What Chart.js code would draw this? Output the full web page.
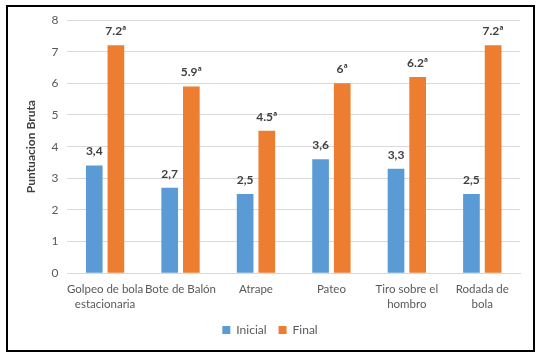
<!DOCTYPE html>
<html lang="en">
<head>
    <meta charset="UTF-8">
    <title>Puntuacion Bruta</title>
    <script src="https://cdn.jsdelivr.net/npm/chart.js"></script>
    <style>
        body { margin: 0; background: #fff; }
        #wrap { width: 542px; height: 359px; }
    </style>
</head>
<body>
    <div id="wrap"><canvas id="chart" width="542" height="359"></canvas></div>

    <script>
        const categories = [
            ['Golpeo de bola', 'estacionaria'],
            'Bote de Balón',
            'Atrape',
            'Pateo',
            ['Tiro sobre el', 'hombro'],
            ['Rodada de', 'bola']
        ];
        const inicial = [3.4, 2.7, 2.5, 3.6, 3.3, 2.5];
        const final = [7.2, 5.9, 4.5, 6, 6.2, 7.2];
        const inicialLabels = ['3,4', '2,7', '2,5', '3,6', '3,3', '2,5'];
        const finalLabels = ['7.2ª', '5.9ª', '4.5ª', '6ª', '6.2ª', '7.2ª'];

        // border around the whole figure + value labels over bars
        const frame = {
            id: 'frame',
            afterDraw(chart) {
                const c = chart.ctx;
                c.save();
                c.strokeStyle = '#000';
                c.lineWidth = 2;
                c.strokeRect(7, 6, 527, 345);
                c.restore();
            }
        };
        const valueLabels = {
            id: 'valueLabels',
            afterDatasetsDraw(chart) {
                const c = chart.ctx;
                const texts = [inicialLabels, finalLabels];
                c.save();
                c.font = 'bold 12px Lato';
                c.fillStyle = '#404040';
                c.textAlign = 'center';
                c.textBaseline = 'middle';
                chart.data.datasets.forEach((ds, i) => {
                    chart.getDatasetMeta(i).data.forEach((bar, j) => {
                        c.fillText(texts[i][j], bar.x, bar.y - 14);
                    });
                });
                c.restore();
            }
        };

        new Chart(document.getElementById('chart'), {
            type: 'bar',
            data: {
                labels: categories,
                datasets: [
                    { label: 'Inicial', data: inicial, backgroundColor: '#5B9BD5' },
                    { label: 'Final', data: final, backgroundColor: '#ED7D31' }
                ]
            },
            options: {
                responsive: false,
                animation: false,
                categoryPercentage: 0.574,
                barPercentage: 0.77,
                layout: { padding: { left: 20, right: 22, top: 20, bottom: 13 } },
                plugins: {
                    tooltip: { enabled: false },
                    legend: {
                        position: 'bottom',
                        labels: {
                            boxWidth: 8, boxHeight: 8, padding: 12,
                            color: '#595959', font: { family: 'Lato', size: 12 }
                        }
                    }
                },
                scales: {
                    x: {
                        grid: { display: false },
                        border: { color: '#D9D9D9' },
                        ticks: {
                            color: '#595959', maxRotation: 0, autoSkip: false,
                            font: { family: 'Lato', size: 11.5, lineHeight: 1.25 }, padding: 1
                        }
                    },
                    y: {
                        min: 0, max: 8,
                        ticks: { stepSize: 1, color: '#595959', font: { family: 'Lato', size: 12 }, padding: 9 },
                        grid: { color: '#D9D9D9', drawTicks: false },
                        border: { display: false },
                        title: {
                            display: true, text: 'Puntuacion Bruta', color: '#404040',
                            font: { family: 'Lato', size: 12, weight: 'bold' }
                        }
                    }
                }
            },
            plugins: [frame, valueLabels]
        });
    </script>
</body>
</html>
